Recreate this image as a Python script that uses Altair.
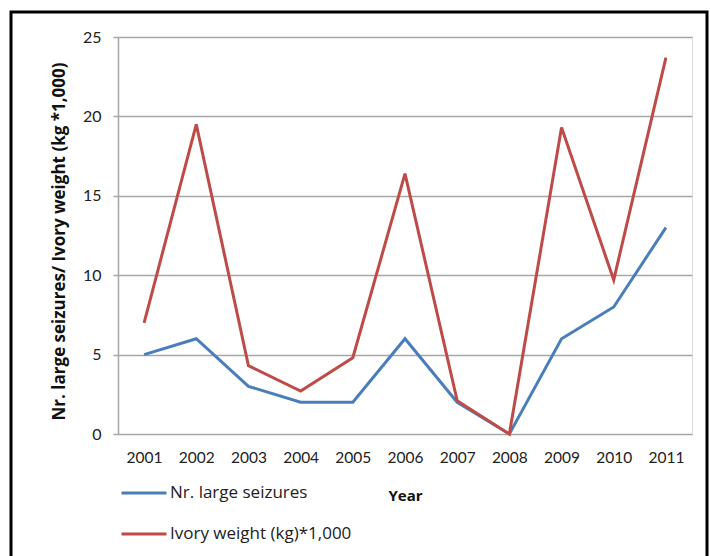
import altair as alt
import pandas as pd

years = ["2001", "2002", "2003", "2004", "2005", "2006", "2007", "2008", "2009", "2010", "2011"]
seizures = [5, 6, 3, 2, 2, 6, 2, 0, 6, 8, 13]
ivory = [7.0, 19.5, 4.3, 2.7, 4.8, 16.4, 2.1, 0.0, 19.3, 9.7, 23.7]
series_names = ["Nr. large seizures", "Ivory weight (kg)*1,000"]
series_colors = ["#4A7EBB", "#BE4B48"]
y_ticks = [0, 5, 10, 15, 20, 25]

rows = []
for y, v in zip(years, seizures):
    rows.append({"Year": y, "value": v, "series": series_names[0]})
for y, v in zip(years, ivory):
    rows.append({"Year": y, "value": v, "series": series_names[1]})
df = pd.DataFrame(rows)

FONT = "Lato"
WIDE = "Open Sans"
W, H = 574, 397

lines = alt.Chart(df).mark_line(strokeWidth=3).encode(
    x=alt.X("Year:O", sort=years,
            scale=alt.Scale(type="point", padding=0.5),
            axis=alt.Axis(title="Year", labelAngle=0, domain=False, ticks=False, tickSize=0,
                          labelPadding=23, labelBaseline="middle", labelFontSize=15.5,
                          labelFont=FONT, labelColor="#222222",
                          titleFont=WIDE, titleFontSize=15, titleFontWeight="bold",
                          titleColor="#111111", titleX=287, titleY=61, titleBaseline="middle",
                          titleAnchor="middle", grid=False)),
    y=alt.Y("value:Q", scale=alt.Scale(domain=[0, 25], nice=False),
            axis=alt.Axis(values=y_ticks, title="Nr. large seizures/ Ivory weight (kg *1,000)",
                          tickSize=5, tickColor="#a6a6a6", tickWidth=1.5,
                          domainColor="#a6a6a6", domainWidth=1.5,
                          gridColor="#a6a6a6", gridWidth=1.5,
                          labelPadding=12, labelFontSize=16, labelFont=FONT, labelColor="#222222",
                          titleFont=WIDE, titleFontSize=17, titleFontWeight="bold",
                          titleColor="#111111", titleLimit=500,
                          titleX=-59, titleY=204, titleAngle=-90, titleAnchor="middle",
                          titleBaseline="middle", titleAlign="center")),
    color=alt.Color("series:N",
                    scale=alt.Scale(domain=series_names, range=series_colors),
                    sort=series_names,
                    legend=alt.Legend(title=None, orient="none", legendX=2, legendY=432,
                                      symbolType="stroke", symbolSize=2025, symbolStrokeWidth=3,
                                      labelFont=WIDE, labelFontSize=17, labelColor="#222222",
                                      labelLimit=500, labelOffset=2, rowPadding=9,
                                      direction="vertical")),
)

border = alt.Chart(alt.Data(values=[{"a": 1}])).mark_rect(
    fill=None, stroke="#000000", strokeWidth=3, clip=False
).encode(
    x=alt.value(11 - 118), x2=alt.value(707 - 118),
    y=alt.value(12 - 37), y2=alt.value(620 - 37),
)

chart = alt.layer(border, lines).properties(
    width=W, height=H,
    padding={"left": 118, "top": 37, "right": 18, "bottom": 122},
    autosize=alt.AutoSizeParams(type="none"),
    background="white",
).configure_view(stroke=None).configure(font=FONT)

chart.save("out.html", embed_options={"renderer": "svg", "actions": False})
